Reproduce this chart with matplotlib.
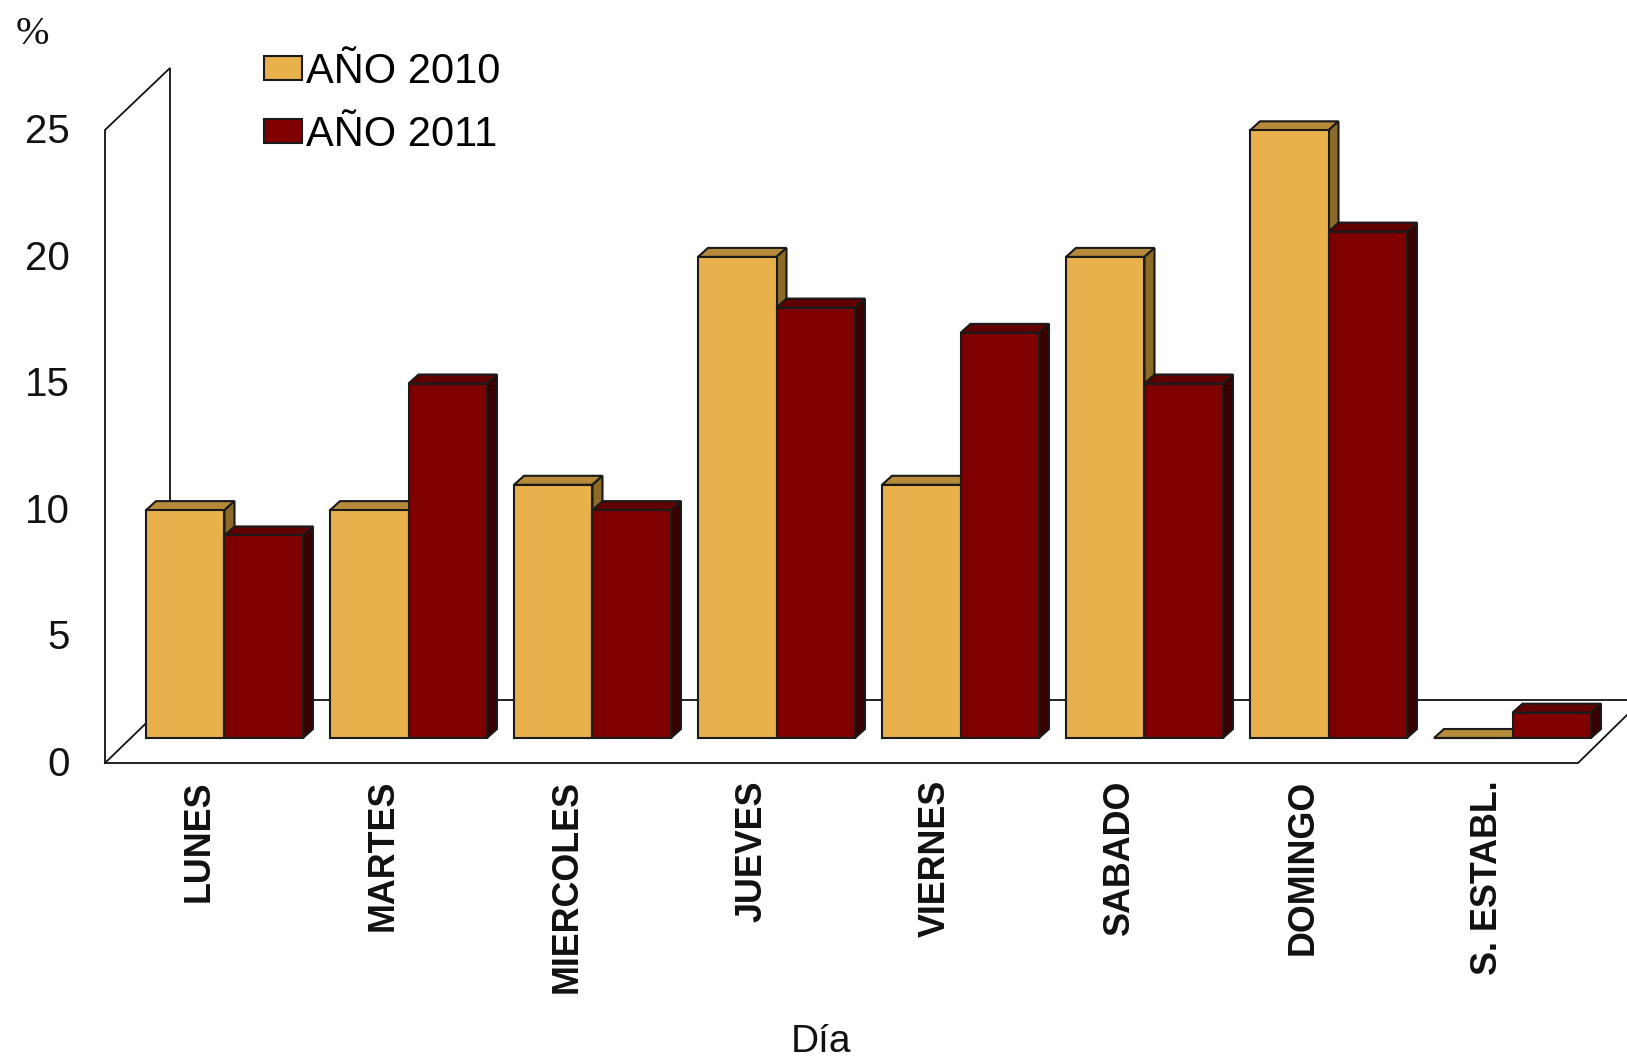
import matplotlib.pyplot as plt
from matplotlib.patches import Polygon
from matplotlib.transforms import Affine2D

dias = ["LUNES", "MARTES", "MIERCOLES", "JUEVES", "VIERNES", "SABADO", "DOMINGO", "S. ESTABL."]
anio_2010 = [9, 9, 10, 19, 10, 19, 24, 0]
anio_2011 = [8, 14, 9, 17, 16, 14, 20, 1]
y_ticks = [0, 5, 10, 15, 20, 25]

W, H = 1627, 1058
PITCH = 184.0      # px between groups
UNIT = 25.32       # px per percent
X0, Y0 = 224.5, 738.0   # px of first group centre / bars base
BAR = 78.5 / PITCH
DX = 10 / PITCH
DY = 9 / UNIT

plt.rcParams['font.family'] = ['Liberation Sans', 'DejaVu Sans']

fig = plt.figure(figsize=(W / 100, H / 100), dpi=100)
ax = fig.add_axes([0, 0, 1, 1])
ax.set_xlim(-X0 / PITCH, (W - X0) / PITCH)
ax.set_ylim(-(H - Y0) / UNIT, Y0 / UNIT)
ax.axis('off')

# frame of the fake 3D box, in image pixels
px = Affine2D().scale(1, -1).translate(0, H)
frame = [
    ([105, 105, 170, 170], [763, 130, 68, 700]),
    ([105, 170, 1627], [763, 700, 700]),
    ([105, 1578, 1627], [763, 763, 715]),
]
for xs, ys in frame:
    ax.plot(xs, ys, color='#111111', lw=1.3, transform=px, zorder=1, solid_joinstyle='miter')


def bar3d(x, v, front, top, side, z, label=None):
    ax.bar(x, v, BAR, color=front, edgecolor='#1a1a1a', lw=1.5, zorder=z + 0.2, label=label)
    left, right = x - BAR / 2, x + BAR / 2
    ax.add_patch(Polygon([(left, v), (left + DX, v + DY), (right + DX, v + DY), (right, v)],
                         fc=top, ec='#1a1a1a', lw=1.5, zorder=z, joinstyle='miter'))
    if v > 0:
        ax.add_patch(Polygon([(right, 0), (right + DX, DY), (right + DX, v + DY), (right, v)],
                             fc=side, ec='#1a1a1a', lw=1.5, zorder=z, joinstyle='miter'))


for i in range(len(dias)):
    bar3d(i - BAR / 2, anio_2010[i], '#E9B14B', '#B58A3A', '#8C6A2A', 2 + i,
          label='AÑO 2010' if i == 0 else None)
    bar3d(i + BAR / 2, anio_2011[i], '#800000', '#600000', '#3A0000', 2.5 + i,
          label='AÑO 2011' if i == 0 else None)
    ax.annotate(dias[i], (i, 0), xytext=(-25, -42), textcoords='offset pixels',
                rotation=90, ha='center', va='top', fontsize=25.8, fontweight='bold', color='#111111')

# y labels sit on the front wall
for t in y_ticks:
    ax.text(70, 765 - t * UNIT, str(t), transform=px, ha='right', va='center',
            fontsize=29, color='#111111')

ax.text(32, 35, '%', transform=px, ha='center', va='center', fontsize=29,
        family=['Liberation Serif'], color='#111111')
ax.text(821, 1042, 'Día', transform=px, ha='center', va='center', fontsize=28, color='#111111')

ax.legend(loc='upper left', bbox_to_anchor=(264, 52), bbox_transform=px,
          frameon=False, fontsize=30, handlelength=0.92, handleheight=0.52,
          handletextpad=0.1, labelspacing=0.55, borderpad=0, borderaxespad=0)

fig.savefig('out.png', dpi=100)
